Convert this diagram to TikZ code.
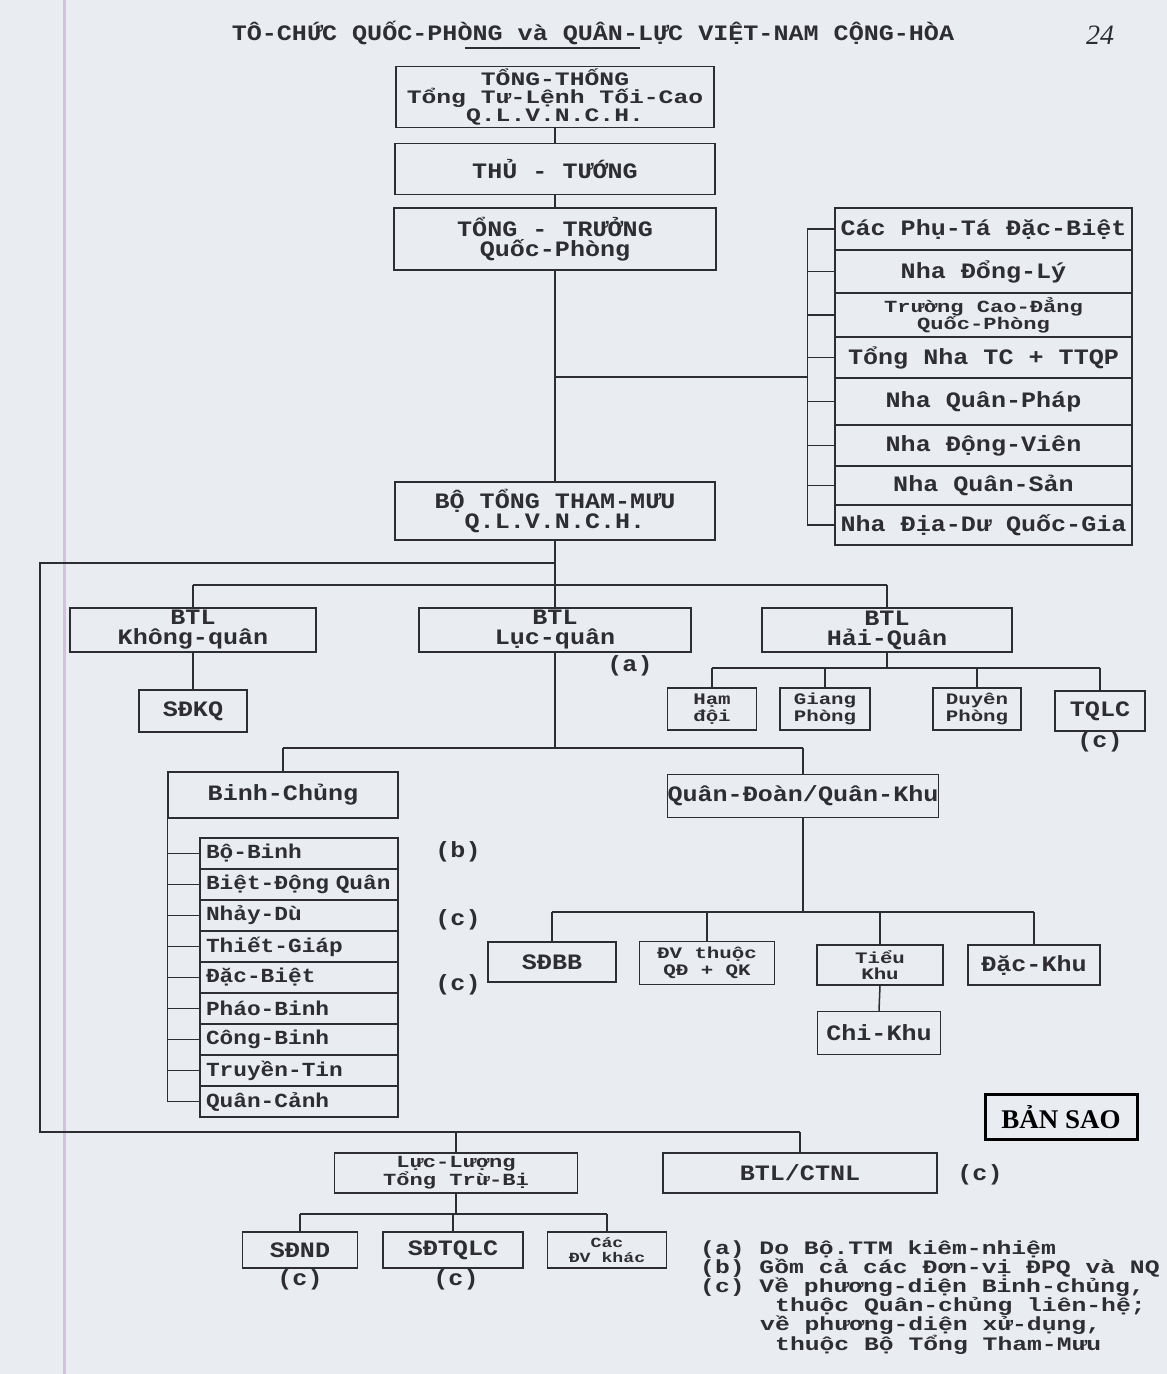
\documentclass[tikz,border=0pt]{standalone}
\usepackage{fontspec}
\newfontfamily\tw{Liberation Mono}[FakeStretch=1.14]
\newfontfamily\twn{Liberation Mono}[FakeStretch=1.3]
\newfontfamily\stampf{Liberation Serif}
\newcommand\fsz[2]{\fontsize{#1}{#2}\selectfont}
\definecolor{inkc}{RGB}{45,45,50}
\definecolor{bgc}{RGB}{233,236,241}
\definecolor{pinkl}{RGB}{214,192,224}
\tikzset{
  ln/.style={line width=1.5pt, draw=inkc},
  box/.style={draw=inkc, line width=1.5pt, rectangle, inner sep=0pt, align=center,
    text=inkc, font=\tw\bfseries\fsz{22}{20}},
  listrow/.style={box, minimum width=198, minimum height=31, text width=186, align=left,
    font=\tw\bfseries\fsz{20}{19}},
  lbl/.style={text=inkc, font=\tw\bfseries\fsz{22}{20}, inner sep=0pt},
  note/.style={text=inkc, font=\twn\bfseries\fsz{19}{19}, inner sep=0pt, anchor=base west},
}
\begin{document}
\begin{tikzpicture}[x=1pt,y=-1pt]
\useasboundingbox (0,0) rectangle (1167,1374);
\fill[bgc] (0,0) rectangle (1167,1374);
\draw[pinkl, line width=3pt] (64,0) -- (64,1374);

% title
\node[lbl] (title) at (593,33) {TÔ-CHỨC QUỐC-PHÒNG và QUÂN-LỰC VIỆT-NAM CỘNG-HÒA};
\draw[ln] (465,48) -- (640,48);
\node[text=inkc, font=\stampf\itshape\fsz{28}{28}, inner sep=0pt] (pg) at (1100,35) {24};

% top chain
\node[box, minimum width=318, minimum height=61, font=\twn\bfseries\fsz{19}{18}] (tt) at (555,97)
  {TỔNG-THỐNG\\Tổng Tư-Lệnh Tối-Cao\\Q.L.V.N.C.H.};
\node[box, minimum width=320, minimum height=51] (thu) at (555,169) {THỦ - TƯỚNG};
\node[box, minimum width=322, minimum height=62] (bt) at (555,239) {TỔNG - TRƯỞNG\\Quốc-Phòng};
\node[box, minimum width=320, minimum height=58] (bttm) at (555,511) {BỘ TỔNG THAM-MƯU\\Q.L.V.N.C.H.};
\draw[ln] (tt.south) -- (thu.north);
\draw[ln] (thu.south) -- (bt.north);
\draw[ln] (bt.south) -- (bttm.north);

% right column
\node[box, minimum width=297, minimum height=42] (r1) at (983.5,229) {Các Phụ-Tá Đặc-Biệt};
\node[box, minimum width=297, minimum height=43] (r2) at (983.5,271.5) {Nha Đổng-Lý};
\node[box, minimum width=297, minimum height=44, font=\twn\bfseries\fsz{17}{17}] (r3) at (983.5,315) {Trường Cao-Đẳng\\Quốc-Phòng};
\node[box, minimum width=297, minimum height=41] (r4) at (983.5,357.5) {Tổng Nha TC + TTQP};
\node[box, minimum width=297, minimum height=47] (r5) at (983.5,401.5) {Nha Quân-Pháp};
\node[box, minimum width=297, minimum height=41] (r6) at (983.5,445.5) {Nha Động-Viên};
\node[box, minimum width=297, minimum height=39] (r7) at (983.5,485.5) {Nha Quân-Sản};
\node[box, minimum width=297, minimum height=40] (r8) at (983.5,525) {Nha Địa-Dư Quốc-Gia};
\draw[ln] (r1.west) -- ++(-27,0) coordinate (rt) -- (rt |- r8.west) -- (r8.west);
\foreach \i in {2,...,7} \draw[ln] (r\i.west) -- ++(-27,0);
\coordinate (jr) at (555,377);
\draw[ln] (jr) -- (jr -| rt);

% frame and level-2 bar
\coordinate (fj) at (555,563);
\coordinate (bj) at (555,585);
\coordinate (fa) at (40,563);
\coordinate (fb) at (40,1132);
\coordinate (fc) at (800,1132);
\draw[ln] (bttm.south) -- (bj);
\draw[ln] (fj) -- (fa) -- (fb) -- (fc);

\node[box, minimum width=246, minimum height=44] (kq) at (193,630) {BTL\\Không-quân};
\node[box, minimum width=272, minimum height=44] (lq) at (555,630) {BTL\\Lục-quân};
\node[box, minimum width=250, minimum height=44] (hq) at (887,630) {BTL\\Hải-Quân};
\draw[ln] (kq.north |- bj) -- (hq.north |- bj);
\draw[ln] (kq.north |- bj) -- (kq.north);
\draw[ln] (bj) -- (lq.north);
\draw[ln] (hq.north |- bj) -- (hq.north);
\node[lbl] (na) at (630,666) {(a)};

% Khong quan
\node[box, minimum width=108, minimum height=42] (sdkq) at (193,711) {SĐKQ};
\draw[ln] (kq.south) -- (sdkq.north);

% Hai quan
\node[box, minimum width=89, minimum height=42, font=\twn\bfseries\fsz{16}{17}] (hd) at (712,709) {Hạm\\đội};
\node[box, minimum width=90, minimum height=42, font=\twn\bfseries\fsz{16}{17}] (gp) at (825,709) {Giang\\Phòng};
\node[box, minimum width=88, minimum height=42, font=\twn\bfseries\fsz{16}{17}] (dp) at (977,709) {Duyên\\Phòng};
\node[box, minimum width=90, minimum height=40] (tq) at (1100,711) {TQLC};
\node[lbl] (ntq) at (1100,742) {(c)};
\coordinate (hb) at (887,668);
\draw[ln] (hq.south) -- (hb);
\draw[ln] (hd.north |- hb) -- (tq.north |- hb);
\foreach \n in {hd,gp,dp,tq} \draw[ln] (\n.north |- hb) -- (\n.north);

% Luc quan
\coordinate (lb) at (555,748);
\node[box, minimum width=230, minimum height=46] (bc) at (283,795) {Binh-Chủng};
\node[box, minimum width=267, minimum height=43] (qd) at (803,796) {Quân-Đoàn/Quân-Khu};
\draw[ln] (lq.south) -- (lb);
\draw[ln] (bc.north |- lb) -- (qd.north |- lb);
\draw[ln] (bc.north |- lb) -- (bc.north);
\draw[ln] (qd.north |- lb) -- (qd.north);

% Binh chung list
\node[listrow] (l1) at (299,853.5) {Bộ-Binh};
\node[listrow] (l2) at (299,884.5) {\mbox{Biệt-Động Quân}};
\node[listrow] (l3) at (299,915.5) {Nhảy-Dù};
\node[listrow] (l4) at (299,946.5) {Thiết-Giáp};
\node[listrow] (l5) at (299,977.5) {Đặc-Biệt};
\node[listrow] (l6) at (299,1008.5) {Pháo-Binh};
\node[listrow] (l7) at (299,1039.5) {Công-Binh};
\node[listrow] (l8) at (299,1070.5) {Truyền-Tin};
\node[listrow] (l9) at (299,1101.5) {Quân-Cảnh};
\draw[ln] (bc.south west) -- (bc.south west |- l9.west) -- (l9.west);
\foreach \i in {1,...,8} \draw[ln] (l\i.west) -- (l\i.west -| bc.south west);
\node[lbl] (nb) at (458,852) {(b)};
\node[lbl] (nc1) at (458,920) {(c)};
\node[lbl] (nc2) at (458,985) {(c)};

% Quan doan children
\coordinate (qb) at (803,912);
\node[box, minimum width=128, minimum height=40] (sdbb) at (552,962) {SĐBB};
\node[box, minimum width=135, minimum height=43, font=\twn\bfseries\fsz{16}{17}] (dv) at (707,963) {ĐV thuộc\\QĐ + QK};
\node[box, minimum width=126, minimum height=40, font=\twn\bfseries\fsz{16}{16}] (tk) at (880,965) {Tiểu\\Khu};
\node[box, minimum width=132, minimum height=40] (dk) at (1034,965) {Đặc-Khu};
\node[box, minimum width=123, minimum height=43] (ck) at (879,1033) {Chi-Khu};
\draw[ln] (qd.south) -- (qb);
\draw[ln] (sdbb.north |- qb) -- (dk.north |- qb);
\foreach \n in {sdbb,dv,tk,dk} \draw[ln] (\n.north |- qb) -- (\n.north);
\draw[ln] (tk.south) -- (ck.north);

% stamp
\node[draw=black, line width=3pt, minimum width=152, minimum height=45, inner sep=0pt,
  font=\stampf\bfseries\fsz{27}{27}] (stamp) at (1061,1117) {BẢN SAO};

% bottom
\node[box, minimum width=243, minimum height=40, font=\twn\bfseries\fsz{17}{17}] (llt) at (456,1173) {Lực-Lượng\\Tổng Trừ-Bị};
\node[box, minimum width=274, minimum height=40] (ctnl) at (800,1173) {BTL/CTNL};
\node[lbl] (nc3) at (980,1175) {(c)};
\draw[ln] (fc) -- (ctnl.north);
\draw[ln] (llt.north |- fb) -- (llt.north);
\coordinate (lb2) at (456,1214);
\node[box, minimum width=115, minimum height=36] (sdnd) at (300,1250) {SĐND};
\node[box, minimum width=140, minimum height=36] (sdtq) at (453,1250) {SĐTQLC};
\node[box, minimum width=119, minimum height=36, font=\twn\bfseries\fsz{14}{15}] (cdv) at (607,1250) {Các\\ĐV khác};
\draw[ln] (llt.south) -- (lb2);
\draw[ln] (sdnd.north |- lb2) -- (cdv.north |- lb2);
\foreach \n in {sdnd,sdtq,cdv} \draw[ln] (\n.north |- lb2) -- (\n.north);
\node[lbl] (nc4) at (300,1280) {(c)};
\node[lbl] (nc5) at (456,1280) {(c)};

% notes
\node[note] (t1) at (700,1254) {(a) Do Bộ.TTM kiêm-nhiệm};
\node[note] (t2) at (700,1273) {(b) Gồm cả các Đơn-vị ĐPQ và NQ};
\node[note] (t3) at (700,1292) {(c) Về phương-diện Binh-chủng,};
\node[note] (t4) at (775,1311) {thuộc Quân-chủng liên-hệ;};
\node[note] (t5) at (760,1330) {về phương-diện xử-dụng,};
\node[note] (t6) at (775,1350) {thuộc Bộ Tổng Tham-Mưu};
\end{tikzpicture}
\end{document}
